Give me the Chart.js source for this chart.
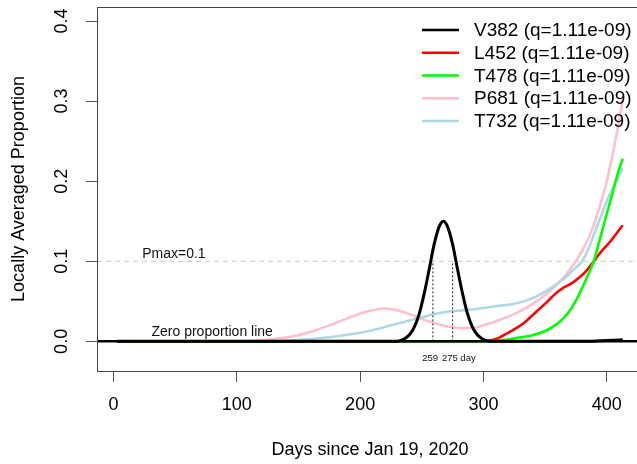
<!DOCTYPE html>
<html>
<head>
<meta charset="utf-8">
<title>Locally Averaged Proportion</title>
<script src="https://cdn.jsdelivr.net/npm/chart.js@4.4.0/dist/chart.umd.min.js"></script>
<style>
  html, body { margin: 0; padding: 0; background: #fff; overflow: hidden; }
  #contenedor { width: 650px; height: 464px; }
</style>
</head>
<body>
<div id="contenedor"><canvas id="grafico" width="650" height="464"></canvas></div>
<script>
// Datos (días desde el 19 ene 2020 / proporción)
const nombres = ["V382 (q=1.11e-09)", "L452 (q=1.11e-09)", "T478 (q=1.11e-09)", "P681 (q=1.11e-09)", "T732 (q=1.11e-09)"];
const colores = ["#000000", "#ff0000", "#00ff00", "#ffc0cb", "#add8e6"];

const diasV382 = [3, 230, 236, 240, 244, 248, 252, 256, 260, 264, 267.5, 271, 275, 279, 283, 287, 291, 295, 299, 305, 385, 395, 405, 413];
const valV382  = [0, 0, 0.0033, 0.0082, 0.018, 0.035, 0.060, 0.090, 0.121, 0.143, 0.150, 0.143, 0.121, 0.090, 0.060, 0.035, 0.018, 0.0082, 0.0033, 0, 0, 0.0008, 0.0015, 0.002];

const diasL452 = [3, 300, 305, 312, 318, 325, 332, 338, 345, 352, 358, 365, 372, 378, 384, 389.5, 396, 403, 408, 413];
const valL452  = [0, 0, 0.001, 0.004, 0.009, 0.015, 0.022, 0.03, 0.04, 0.05, 0.059, 0.067, 0.073, 0.08, 0.089, 0.1, 0.113, 0.125, 0.135, 0.145];

const diasT478 = [3, 300, 315, 325, 338, 350, 358, 365, 372, 378, 384, 389.5, 395, 400, 405, 410, 413];
const valT478  = [0, 0, 0.001, 0.004, 0.007, 0.013, 0.02, 0.029, 0.043, 0.06, 0.08, 0.1, 0.131, 0.159, 0.187, 0.215, 0.228];

const diasP681 = [3, 90, 110, 130, 145, 160, 175, 190, 205, 220, 230, 240, 250, 260, 270, 282, 292, 300, 312, 325, 338, 350, 362, 375, 385, 390, 395, 400, 405, 410, 413];
const valP681  = [0, 0, 0.0005, 0.003, 0.006, 0.012, 0.02, 0.029, 0.037, 0.041, 0.039, 0.034, 0.028, 0.023, 0.019, 0.0165, 0.017, 0.02, 0.026, 0.034, 0.045, 0.058, 0.075, 0.1, 0.128, 0.148, 0.172, 0.2, 0.235, 0.275, 0.303];

const diasT732 = [3, 125, 140, 160, 180, 195, 210, 225, 240, 250, 260, 270, 285, 297, 310, 325, 340, 352, 365, 372, 380, 385, 390, 395, 400, 405, 410, 413];
const valT732  = [0, 0, 0.001, 0.003, 0.006, 0.0095, 0.014, 0.02, 0.026, 0.030, 0.034, 0.037, 0.039, 0.041, 0.044, 0.047, 0.054, 0.064, 0.078, 0.088, 0.1, 0.115, 0.135, 0.155, 0.175, 0.192, 0.207, 0.216];

const ticksX = [0, 100, 200, 300, 400];
const ticksY = [0, 0.1, 0.2, 0.3, 0.4];
const etiquetasY = ["0.0", "0.1", "0.2", "0.3", "0.4"];

const pmax = 0.1;
const diasMarcados = [259, 275];
const rangoX = [-13.4, 429.4];
const rangoY = [-0.037, 0.4175];

const fuente = "'Liberation Sans', Arial, Helvetica, sans-serif";

function puntos(dias, valores) {
    return dias.map((d, i) => ({ x: d, y: valores[i] }));
}

function curva(i, dias, valores, ancho, orden) {
    return {
        label: nombres[i],
        data: puntos(dias, valores),
        borderColor: colores[i],
        backgroundColor: colores[i],
        borderWidth: ancho,
        pointRadius: 0,
        cubicInterpolationMode: "monotone",
        fill: false,
        order: orden,
        esLeyenda: true
    };
}

function recta(datos, color, ancho, guiones, orden) {
    return {
        label: "",
        data: datos,
        borderColor: color,
        borderWidth: ancho,
        borderDash: guiones,
        pointRadius: 0,
        fill: false,
        order: orden
    };
}

// orden: el número más bajo se dibuja encima
const datasets = [
    recta([{ x: rangoX[0], y: pmax }, { x: rangoX[1], y: pmax }], "#c8c8c8", 1, [5, 4], 10),
    curva(3, diasP681, valP681, 2.6, 8),
    curva(4, diasT732, valT732, 2.6, 7),
    curva(1, diasL452, valL452, 2.6, 6),
    curva(2, diasT478, valT478, 2.6, 5),
    recta([{ x: rangoX[0], y: 0 }, { x: rangoX[1], y: 0 }], "#000000", 2.5, [], 4.5),
    curva(0, diasV382, valV382, 3, 4)
];
diasMarcados.forEach(d => {
    datasets.push(recta([{ x: d, y: 0 }, { x: d, y: pmax }], "#222222", 1, [2, 2], 3));
});

// Textos dentro del gráfico
const textos = [
    { texto: "Pmax=0.1", x: 49, y: 0.109, tam: 14 },
    { texto: "Zero proportion line", x: 80, y: 0.0116, tam: 14 },
    { texto: "259", x: 256.8, y: -0.021, tam: 9.5 },
    { texto: "275 day", x: 280, y: -0.021, tam: 9.5 }
];

const marcoYTextos = {
    id: "marcoYTextos",
    afterDraw(chart) {
        const { ctx, chartArea: a, scales: { x, y } } = chart;
        ctx.save();

        // Caja del gráfico
        ctx.strokeStyle = "#444";
        ctx.lineWidth = 1;
        ctx.strokeRect(a.left + 0.5, a.top + 0.5, a.right - a.left, a.bottom - a.top);

        // Etiquetas del eje Y giradas
        ctx.fillStyle = "#000";
        ctx.font = "18px " + fuente;
        ctx.textAlign = "center";
        ctx.textBaseline = "middle";
        ticksY.forEach((v, i) => {
            ctx.save();
            ctx.translate(a.left - 34.5, y.getPixelForValue(v));
            ctx.rotate(-Math.PI / 2);
            ctx.fillText(etiquetasY[i], 0, 0);
            ctx.restore();
        });

        // Anotaciones
        textos.forEach(t => {
            ctx.font = t.tam + "px " + fuente;
            ctx.fillStyle = "#111";
            ctx.fillText(t.texto, x.getPixelForValue(t.x), y.getPixelForValue(t.y));
        });

        // Leyenda sin recuadro
        ctx.font = "19px " + fuente;
        ctx.textAlign = "left";
        chart.data.datasets.filter(ds => ds.esLeyenda)
            .sort((p, q) => nombres.indexOf(p.label) - nombres.indexOf(q.label))
            .forEach((ds, i) => {
                const yy = a.top + 23 + i * 22.75;
                ctx.strokeStyle = ds.borderColor;
                ctx.lineWidth = 2.7;
                ctx.beginPath();
                ctx.moveTo(422, yy);
                ctx.lineTo(459, yy);
                ctx.stroke();
                ctx.fillStyle = "#000";
                ctx.fillText(ds.label, 474, yy + 1);
            });
        ctx.restore();
    }
};

new Chart(document.getElementById("grafico").getContext("2d"), {
    type: "line",
    data: { datasets: datasets },
    options: {
        responsive: false,
        animation: false,
        events: [],
        layout: { padding: { top: 7, right: 7, left: 0, bottom: 0 } },
        plugins: {
            legend: { display: false },
            tooltip: { enabled: false }
        },
        scales: {
            x: {
                type: "linear",
                min: rangoX[0],
                max: rangoX[1],
                afterBuildTicks: (s) => { s.ticks = ticksX.map(v => ({ value: v })); },
                afterFit: (s) => { s.height = 93; },
                grid: { drawOnChartArea: false, drawTicks: true, tickLength: 11, color: "#555" },
                border: { display: false },
                ticks: {
                    color: "#000",
                    padding: 12,
                    maxRotation: 0,
                    font: { family: fuente, size: 18 }
                },
                title: {
                    display: true,
                    text: "Days since Jan 19, 2020",
                    color: "#000",
                    font: { family: fuente, size: 18 },
                    padding: { top: 0, bottom: 3 }
                }
            },
            y: {
                type: "linear",
                min: rangoY[0],
                max: rangoY[1],
                afterBuildTicks: (s) => { s.ticks = ticksY.map(v => ({ value: v })); },
                afterFit: (s) => { s.width = 97; },
                grid: { drawOnChartArea: false, drawTicks: true, tickLength: 11, color: "#555" },
                border: { display: false },
                ticks: { display: false },
                title: {
                    display: true,
                    text: "Locally Averaged Proportion",
                    color: "#000",
                    font: { family: fuente, size: 18 },
                    padding: { top: 8, bottom: 0 }
                }
            }
        }
    },
    plugins: [marcoYTextos]
});
</script>
</body>
</html>
